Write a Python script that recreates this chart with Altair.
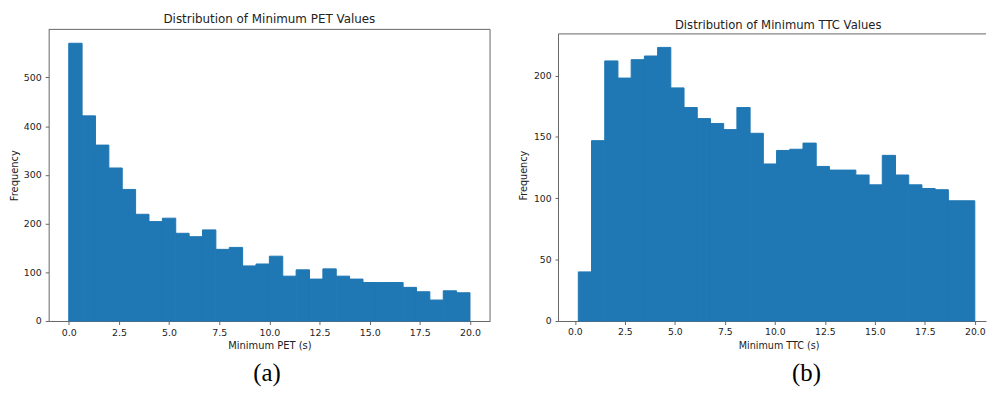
import altair as alt
import pandas as pd
import numpy as np

# ---- data ----
pet_counts = [570, 421, 361, 314, 270, 219, 204, 211, 180, 173,
              187, 147, 151, 113, 117, 133, 92, 105, 86, 107,
              92, 86, 79, 79, 79, 69, 60, 43, 62, 58]
pet_range = [0.0, 20.0]

ttc_counts = [40, 147, 212, 198, 213, 216, 223, 190, 174, 165,
              161, 156, 174, 153, 128, 139, 140, 145, 126, 123,
              123, 119, 111, 135, 119, 111, 108, 107, 98, 98]
ttc_range = [0.17, 20.0]

x_ticks = [0.0, 2.5, 5.0, 7.5, 10.0, 12.5, 15.0, 17.5, 20.0]
pet_y_ticks = [0, 100, 200, 300, 400, 500]
ttc_y_ticks = [0, 50, 100, 150, 200]

titles = ["Distribution of Minimum PET Values", "Distribution of Minimum TTC Values"]
xlabels = ["Minimum PET (s)", "Minimum TTC (s)"]
captions = ["(a)", "(b)"]

BLUE = "#1f77b4"
SPINE = "#666666"
TXT = "#222222"
FONT = "DejaVu Sans"


def hist_df(counts, rng):
    edges = np.linspace(rng[0], rng[1], len(counts) + 1)
    return pd.DataFrame({"start": edges[:-1], "end": edges[1:], "count": counts})


one = pd.DataFrame({"k": [0]})


def axis(values, title, fs_tick, fs_lab, domain=True, fmt=None, title_x=None, title_pad=4, label_pad=3):
    kw = dict(values=values, title=title, grid=False, domain=domain, domainColor=SPINE,
              domainWidth=1, tickColor=SPINE, tickSize=3.5, tickWidth=1,
              labelFont=FONT, labelFontSize=fs_tick, labelColor=TXT, labelPadding=label_pad,
              titleFont=FONT, titleFontSize=fs_lab, titleFontWeight="normal",
              titleColor=TXT, titlePadding=title_pad, labelFlush=False, labelOverlap=False)
    if fmt is not None:
        kw["format"] = fmt
    if title_x is not None:
        kw["titleX"] = title_x
    return alt.Axis(**kw)


# ---------- left panel (a) ----------
pet_xdom = [-1.0, 21.0]
pet_ytop = 598.5
pet_df = hist_df(pet_counts, pet_range)
W1, H1 = 445, 294

pet_bars = alt.Chart(pet_df).mark_rect(color=BLUE, stroke=BLUE, strokeWidth=1).encode(
    x=alt.X("start:Q", scale=alt.Scale(domain=pet_xdom, nice=False, zero=False),
            axis=axis(x_ticks, xlabels[0], 9.5, 10, fmt=".1f", title_pad=4, label_pad=3)),
    x2="end:Q",
    y=alt.Y("count:Q", scale=alt.Scale(domain=[0, pet_ytop], nice=False),
            axis=axis(pet_y_ticks, "Frequency", 9.5, 10, title_pad=3.5, label_pad=4)),
    y2=alt.datum(0),
)
pet_top = alt.Chart(one).mark_rule(color=SPINE, strokeWidth=1).encode(y=alt.datum(pet_ytop))
pet_right = alt.Chart(one).mark_rule(color=SPINE, strokeWidth=1).encode(x=alt.datum(pet_xdom[1]))
pet_cap = alt.Chart(one).mark_text(font="Liberation Serif", fontSize=25, color="black",
                                   align="center", baseline="middle").encode(
    x=alt.value(220), y=alt.value(346), text=alt.value(captions[0]))

left = alt.layer(pet_bars, pet_top, pet_right, pet_cap).properties(
    width=W1, height=H1,
    title=alt.Title(titles[0], font=FONT, fontSize=12, fontWeight="normal", color=TXT,
                    anchor="middle", frame="group", offset=3),
)

# ---------- right panel (b) ----------
ttc_xdom = [-0.82, 20.56]
ttc_yaxis_top = 234.0
ttc_ytop = 237.7
ttc_df = hist_df(ttc_counts, ttc_range)
W2, H2 = 431, 294

ttc_bars = alt.Chart(ttc_df).mark_rect(color=BLUE, stroke=BLUE, strokeWidth=1).encode(
    x=alt.X("start:Q", scale=alt.Scale(domain=ttc_xdom, nice=False, zero=False),
            axis=axis(x_ticks, xlabels[1], 9.3, 9.7, fmt=".1f", title_x=222, title_pad=4, label_pad=3)),
    x2="end:Q",
    y=alt.Y("count:Q", scale=alt.Scale(domain=[0, ttc_ytop], nice=False),
            axis=axis(ttc_y_ticks, "Frequency", 9.3, 9.7, domain=False, title_pad=5, label_pad=4)),
    y2=alt.datum(0),
)
ttc_left = alt.Chart(one).mark_rule(color=SPINE, strokeWidth=1).encode(
    x=alt.datum(ttc_xdom[0]), y=alt.datum(0), y2=alt.datum(ttc_yaxis_top))
ttc_top = alt.Chart(one).mark_rule(color=SPINE, strokeWidth=1).encode(
    x=alt.datum(ttc_xdom[0]), x2=alt.datum(ttc_xdom[1]), y=alt.datum(ttc_yaxis_top))
ttc_cap = alt.Chart(one).mark_text(font="Liberation Serif", fontSize=25, color="black",
                                   align="center", baseline="middle").encode(
    x=alt.value(250), y=alt.value(346.5), text=alt.value(captions[1]))

right = alt.layer(ttc_bars, ttc_left, ttc_top, ttc_cap).properties(
    width=W2, height=H2,
    title=alt.Title(titles[1], font=FONT, fontSize=11.7, fontWeight="normal", color=TXT,
                    anchor="middle", frame="group", offset=-2, dx=6),
)

chart = alt.hconcat(left, right, spacing=69, bounds="flush").properties(
    padding={"left": 1, "top": 3, "right": 0, "bottom": 0},
).configure_view(stroke="transparent")

chart.save("out.html", embed_options={"renderer": "svg", "actions": False})
